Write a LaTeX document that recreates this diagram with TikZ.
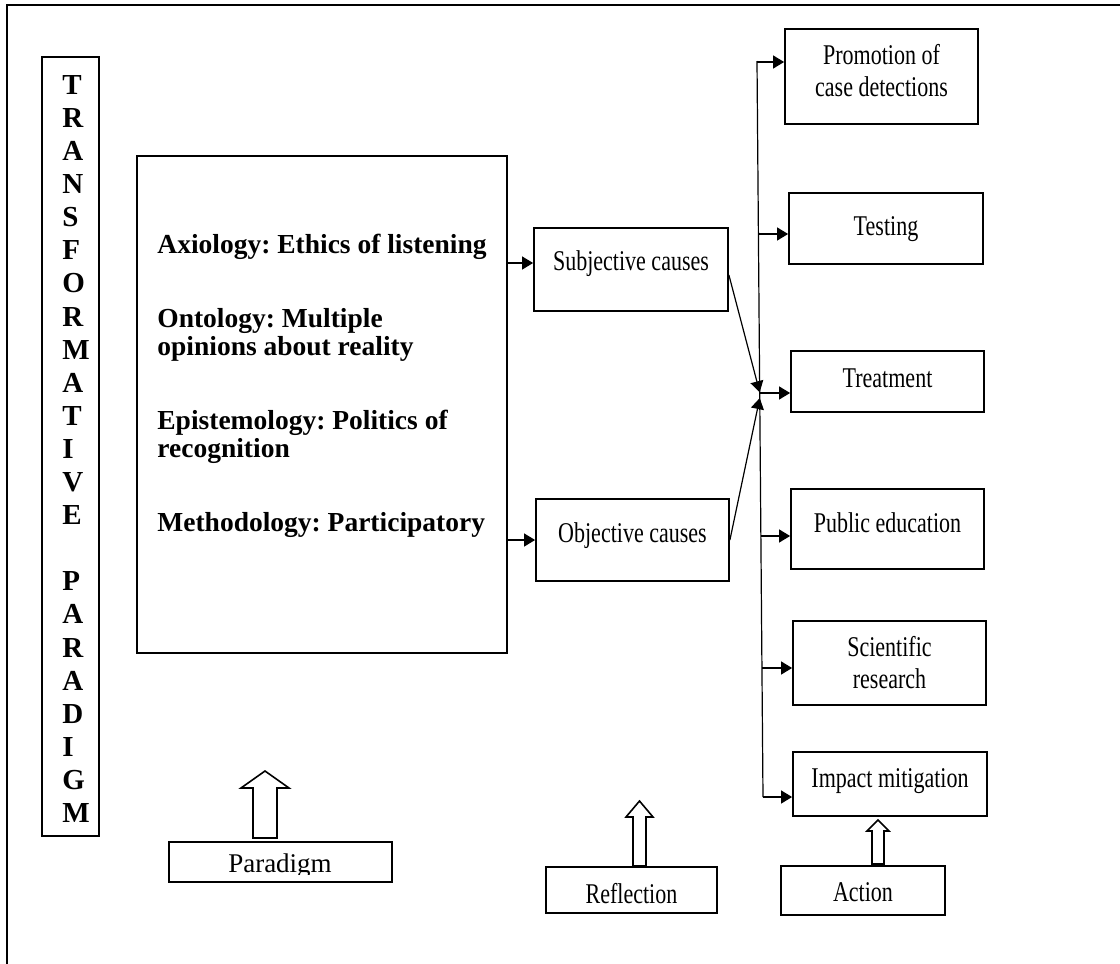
\documentclass[tikz,border=0pt]{standalone}
\usepackage{fontspec}
\setmainfont{Liberation Serif}
\newfontfamily\narrowserif[FakeStretch=0.77]{Liberation Serif}
\usetikzlibrary{arrows.meta,calc}
\frenchspacing

\tikzset{
  box/.style={draw, line width=0.9pt, inner sep=0pt},
  plain/.style={box, align=center, font=\narrowserif\fontsize{14.3}{16}\selectfont},
  lift/.style={text height=#1, text depth=0pt},
  conn/.style={line width=0.6pt, -{Triangle[length=5.5pt,width=6.5pt]}},
  hollow/.style={draw, line width=0.8pt, fill=white, line join=miter},
}

\begin{document}
\begin{tikzpicture}[x=0.5pt, y=-0.5pt]
  \useasboundingbox (0,0) rectangle (1120,964);
  % outer frame
  \draw[line width=0.8pt] (7,964) -- (7,5) -- (1120,5);

  % left: vertical title
  \node[box, minimum width=28.5pt, minimum height=389.5pt] (tp) at (70.5,446.5) {};
  \node[inner sep=0pt, anchor=north west, align=left,
        font=\bfseries\fontsize{14.5}{16.55}\selectfont] (tpword) at (62,75)
    {T\\R\\A\\N\\S\\F\\O\\R\\M\\A\\T\\I\\V\\E\\[16.55pt]P\\A\\R\\A\\D\\I\\G\\M};

  % paradigm tenets
  \node[box, minimum width=185pt, minimum height=248.5pt] (frame) at (322,404.5) {};
  \node[inner sep=0pt, anchor=north west, align=left,
        font=\bfseries\fontsize{13.75}{14}\selectfont] (tenets) at (157,234)
    {Axiology: Ethics of listening\\[23pt]
     Ontology: Multiple\\opinions about reality\\[23pt]
     Epistemology: Politics of\\recognition\\[23pt]
     Methodology: Participatory};

  % causes
  \node[plain, lift=0.5pt, minimum width=97pt, minimum height=41.5pt] (subj) at (631,269.5) {Subjective causes};
  \node[plain, lift=2pt, minimum width=96.5pt, minimum height=41pt] (obj) at (632.5,540) {Objective causes};
  \coordinate (sa) at ([yshift=3.25pt]subj.west);
  \draw[conn] (frame.east |- sa) -- (sa);
  \draw[conn] (frame.east |- obj.west) -- (obj.west);

  % actions
  \node[plain, text depth=6.3pt, minimum width=96.5pt, minimum height=47.5pt] (promo) at (881.5,76.5) {Promotion of\\case detections};
  \node[plain, lift=6.5pt, minimum width=97pt, minimum height=35.5pt] (testing) at (886,228.5) {Testing};
  \node[plain, lift=5.5pt, minimum width=96.5pt, minimum height=30.5pt] (treat) at (887.5,381.5) {Treatment};
  \node[plain, lift=3pt, minimum width=96.5pt, minimum height=40pt] (pubed) at (887.5,529) {Public education};
  \node[plain, minimum width=96.5pt, minimum height=42pt] (sci) at (889.5,663) {Scientific\\research};
  \node[plain, lift=3pt, minimum width=97pt, minimum height=32pt] (impact) at (890,784) {Impact mitigation};

  % trunk and branches
  \coordinate (trunktop) at (757,61);
  \coordinate (trunkbot) at (763,797);
  \draw[line width=0.6pt] (trunktop) -- (trunkbot);
  \draw[conn] ([yshift=-2.75pt]subj.east) -- ($(trunktop)!0.45!(trunkbot)$);
  \draw[conn] (obj.east) -- ($(trunktop)!0.458!(trunkbot)$);
  \foreach \b/\y in {promo/62,testing/234,treat/393,pubed/536,sci/668,impact/797}
    \draw[conn] ($(trunktop)!{(\y-61)/736}!(trunkbot)$) coordinate (br) -- (br -| \b.west);

  % bottom labels
  \node[box, minimum width=111.5pt, minimum height=20pt] (para) at (280.5,862) {};
  \begin{scope}
    \clip (para.north west) rectangle ([yshift=4pt]para.south east);
    \node[inner sep=0pt, anchor=base, font=\fontsize{13.5}{16}\selectfont] (paraword) at (280,872) {Paradigm};
  \end{scope}
  \node[plain, lift=13pt, minimum width=85.5pt, minimum height=23pt] (refl) at (631.5,890) {Reflection};
  \node[plain, lift=10.5pt, minimum width=82pt, minimum height=24.5pt] (act) at (863,890.5) {Action};

  % hollow up arrows
  \foreach \cx/\yb/\yh/\yt/\sw/\hw in {265/838/788/771/12/24, 639.5/866/817/801/6.5/13.5, 878/864/831/820/6/11}
    \draw[hollow] (\cx-\sw,\yb) -- (\cx-\sw,\yh) -- (\cx-\hw,\yh) -- (\cx,\yt)
      -- (\cx+\hw,\yh) -- (\cx+\sw,\yh) -- (\cx+\sw,\yb) -- cycle;
\end{tikzpicture}
\end{document}
